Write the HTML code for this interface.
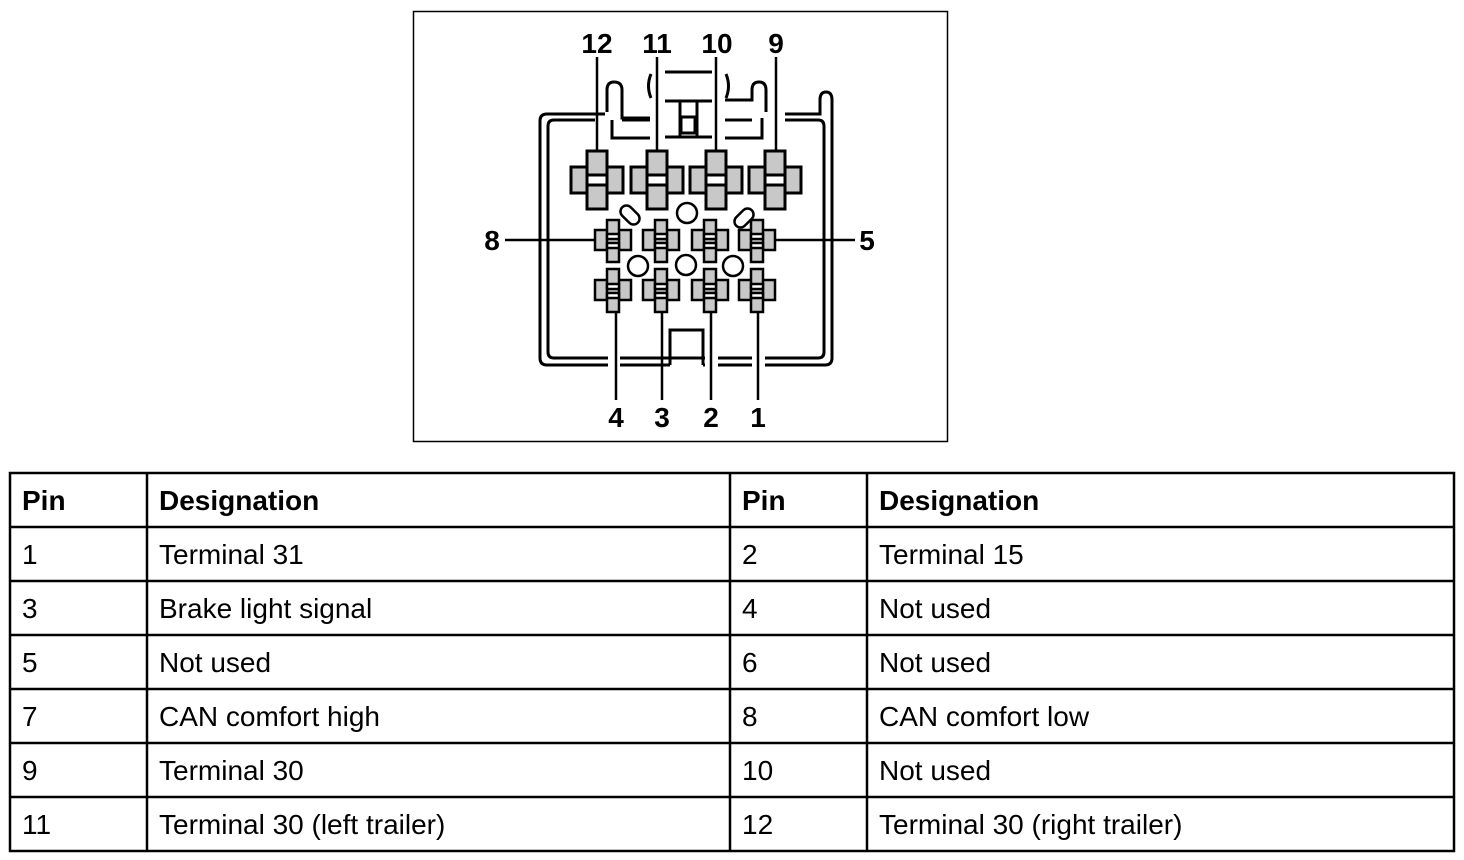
<!DOCTYPE html>
<html><head><meta charset="utf-8"><style>
html,body{margin:0;padding:0;background:#fff;width:1464px;height:860px;overflow:hidden}
svg{display:block}
.t{font-family:"Liberation Sans Narrow","Liberation Sans",sans-serif;font-size:28px;fill:#000}
.b{font-weight:bold}
.n{font-family:"Liberation Sans",sans-serif;font-weight:bold;font-size:28px;fill:#000;text-anchor:middle}
</style></head><body>
<svg width="1464" height="860" viewBox="0 0 1464 860" xmlns="http://www.w3.org/2000/svg">
<rect x="413.5" y="11.5" width="534" height="430" fill="none" stroke="#000" stroke-width="1.5"/>
<g fill="none" stroke="#000" stroke-width="3">
<path d="M605 114 H547 Q540 114 540 121 V358 Q540 365 547 365 H608 M620 365 H670 M703 365 H705 M718 365 H752 M765 365 H825 Q832 365 832 358 V100 Q832 92 826 92 Q820 92 820 100 V114 H785"/>
<path d="M595 120 H554 Q548 120 548 126 V352 Q548 358 554 358 H608 M620 358 H705 M718 358 H752 M765 358 H818 Q824 358 824 352 V126 Q824 120 818 120 H785"/>
<path d="M607 112 V90 Q607 82 614 82 Q622 82 622 90 V118 H650 M612 120 V138 H650 M622 120 H650"/>
<path d="M766 112 V90 Q766 82 759 82 Q752 82 752 90 V100 H725 M762 118 V138 H725 M752 120 H725"/>
<path d="M665 72 H712 M665 101 H712 M665 137 H712 M680 101 V137 M697 101 V137"/>
<path d="M651 74 Q646 86 651 98 M726 74 Q731 86 726 98"/>
<rect x="681" y="117" width="14" height="16"/>
<path d="M670 365 V330 H703 V365"/>
</g>
<g stroke="#000" stroke-width="2.5">
<line x1="597" y1="57" x2="597" y2="151"/>
<line x1="657" y1="57" x2="657" y2="151"/>
<line x1="716" y1="57" x2="716" y2="151"/>
<line x1="776" y1="57" x2="776" y2="151"/>
<line x1="505" y1="240" x2="595" y2="240"/>
<line x1="775" y1="240" x2="855" y2="240"/>
<line x1="616" y1="313" x2="616" y2="400"/>
<line x1="662" y1="313" x2="662" y2="400"/>
<line x1="711" y1="313" x2="711" y2="400"/>
<line x1="758" y1="313" x2="758" y2="400"/>
</g>
<g fill="#c8c8c8" stroke="#000" stroke-width="3">
<g transform="translate(597,180)"><rect x="-26" y="-13" width="52" height="26"/><rect x="-10" y="-29" width="20" height="58"/><rect x="-10" y="-5" width="20" height="10" fill="#fff"/></g>
<g transform="translate(657,180)"><rect x="-26" y="-13" width="52" height="26"/><rect x="-10" y="-29" width="20" height="58"/><rect x="-10" y="-5" width="20" height="10" fill="#fff"/></g>
<g transform="translate(716,180)"><rect x="-26" y="-13" width="52" height="26"/><rect x="-10" y="-29" width="20" height="58"/><rect x="-10" y="-5" width="20" height="10" fill="#fff"/></g>
<g transform="translate(775,180)"><rect x="-26" y="-13" width="52" height="26"/><rect x="-10" y="-29" width="20" height="58"/><rect x="-10" y="-5" width="20" height="10" fill="#fff"/></g>
</g>
<g fill="#c8c8c8" stroke="#000" stroke-width="2.5">
<g transform="translate(613,240)"><rect x="-18" y="-10" width="36" height="20"/><rect x="-6" y="-20" width="12" height="42"/><rect x="-6" y="-6" width="12" height="5" fill="#fff"/><rect x="-6" y="3" width="12" height="5" fill="#fff"/></g>
<g transform="translate(661,240)"><rect x="-18" y="-10" width="36" height="20"/><rect x="-6" y="-20" width="12" height="42"/><rect x="-6" y="-6" width="12" height="5" fill="#fff"/><rect x="-6" y="3" width="12" height="5" fill="#fff"/></g>
<g transform="translate(710,240)"><rect x="-18" y="-10" width="36" height="20"/><rect x="-6" y="-20" width="12" height="42"/><rect x="-6" y="-6" width="12" height="5" fill="#fff"/><rect x="-6" y="3" width="12" height="5" fill="#fff"/></g>
<g transform="translate(757,240)"><rect x="-18" y="-10" width="36" height="20"/><rect x="-6" y="-20" width="12" height="42"/><rect x="-6" y="-6" width="12" height="5" fill="#fff"/><rect x="-6" y="3" width="12" height="5" fill="#fff"/></g>
<g transform="translate(613,290)"><rect x="-18" y="-10" width="36" height="20"/><rect x="-6" y="-21" width="12" height="43"/><rect x="-6" y="-6" width="12" height="5" fill="#fff"/><rect x="-6" y="3" width="12" height="5" fill="#fff"/></g>
<g transform="translate(661,290)"><rect x="-18" y="-10" width="36" height="20"/><rect x="-6" y="-21" width="12" height="43"/><rect x="-6" y="-6" width="12" height="5" fill="#fff"/><rect x="-6" y="3" width="12" height="5" fill="#fff"/></g>
<g transform="translate(710,290)"><rect x="-18" y="-10" width="36" height="20"/><rect x="-6" y="-21" width="12" height="43"/><rect x="-6" y="-6" width="12" height="5" fill="#fff"/><rect x="-6" y="3" width="12" height="5" fill="#fff"/></g>
<g transform="translate(757,290)"><rect x="-18" y="-10" width="36" height="20"/><rect x="-6" y="-21" width="12" height="43"/><rect x="-6" y="-6" width="12" height="5" fill="#fff"/><rect x="-6" y="3" width="12" height="5" fill="#fff"/></g>
</g>
<g fill="#fff" stroke="#000" stroke-width="2.5">
<circle cx="687" cy="213" r="10"/>
<circle cx="638" cy="266" r="10"/>
<circle cx="686" cy="265" r="10"/>
<circle cx="733" cy="266" r="10"/>
<rect x="619" y="209" width="22" height="12" rx="6" transform="rotate(45 630 215)"/>
<rect x="733" y="212" width="22" height="12" rx="6" transform="rotate(-45 744 218)"/>
</g>
<text class="n" x="597" y="53">12</text>
<text class="n" x="657" y="53">11</text>
<text class="n" x="717" y="53">10</text>
<text class="n" x="776" y="53">9</text>
<text class="n" x="492" y="250">8</text>
<text class="n" x="867" y="250">5</text>
<text class="n" x="616" y="427">4</text>
<text class="n" x="662" y="427">3</text>
<text class="n" x="711" y="427">2</text>
<text class="n" x="758" y="427">1</text>
<g stroke="#000" stroke-width="2.5" fill="none">
<rect x="10" y="473" width="1444" height="378"/>
<line x1="10" y1="527" x2="1454" y2="527"/>
<line x1="10" y1="581" x2="1454" y2="581"/>
<line x1="10" y1="635" x2="1454" y2="635"/>
<line x1="10" y1="689" x2="1454" y2="689"/>
<line x1="10" y1="743" x2="1454" y2="743"/>
<line x1="10" y1="797" x2="1454" y2="797"/>
<line x1="147" y1="473" x2="147" y2="851"/>
<line x1="730" y1="473" x2="730" y2="851"/>
<line x1="867" y1="473" x2="867" y2="851"/>
</g>
<g>
<text class="t b" x="22" y="510">Pin</text><text class="t b" x="159" y="510">Designation</text><text class="t b" x="742" y="510">Pin</text><text class="t b" x="879" y="510">Designation</text>
<text class="t" x="22" y="564">1</text><text class="t" x="159" y="564">Terminal 31</text><text class="t" x="742" y="564">2</text><text class="t" x="879" y="564">Terminal 15</text>
<text class="t" x="22" y="618">3</text><text class="t" x="159" y="618">Brake light signal</text><text class="t" x="742" y="618">4</text><text class="t" x="879" y="618">Not used</text>
<text class="t" x="22" y="672">5</text><text class="t" x="159" y="672">Not used</text><text class="t" x="742" y="672">6</text><text class="t" x="879" y="672">Not used</text>
<text class="t" x="22" y="726">7</text><text class="t" x="159" y="726">CAN comfort high</text><text class="t" x="742" y="726">8</text><text class="t" x="879" y="726">CAN comfort low</text>
<text class="t" x="22" y="780">9</text><text class="t" x="159" y="780">Terminal 30</text><text class="t" x="742" y="780">10</text><text class="t" x="879" y="780">Not used</text>
<text class="t" x="22" y="834">11</text><text class="t" x="159" y="834">Terminal 30 (left trailer)</text><text class="t" x="742" y="834">12</text><text class="t" x="879" y="834">Terminal 30 (right trailer)</text>
</g>
</svg>
</body></html>
